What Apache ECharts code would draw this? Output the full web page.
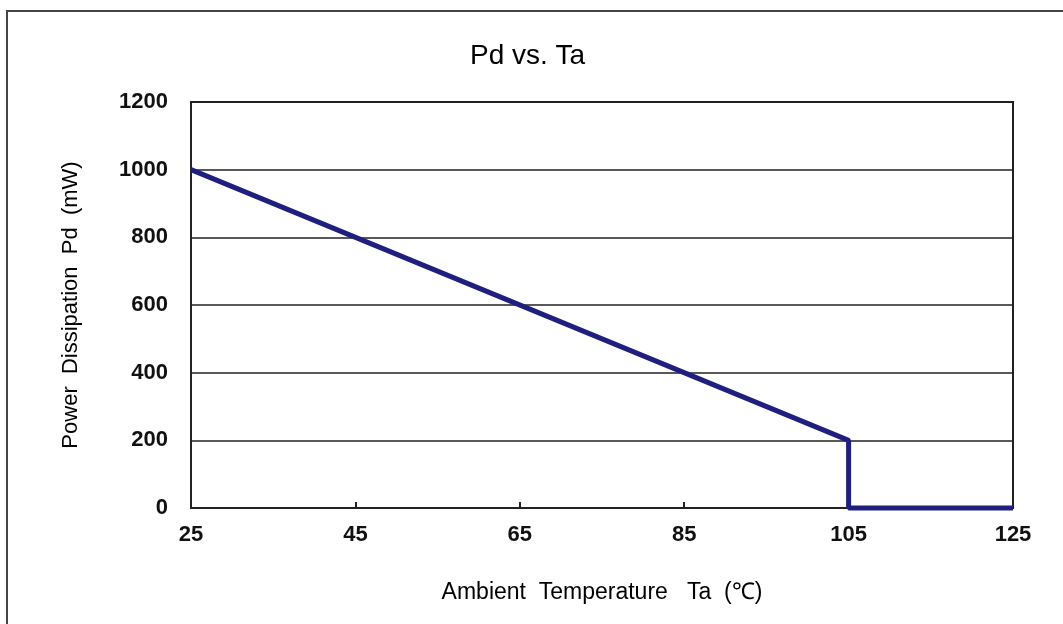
<!DOCTYPE html>
<html><head><meta charset="utf-8">
<script src="https://cdn.jsdelivr.net/npm/echarts@6/dist/echarts.min.js"></script>
<style>html,body{margin:0;padding:0;background:#fff}#c{width:1063px;height:624px}</style>
</head><body><div id="c"></div>
<script>
const temps = [25, 105, 105, 125];
const pd = [1000, 200, 0, 0];
const xTicks = [25, 45, 65, 85, 105, 125];
const yTicks = [0, 200, 400, 600, 800, 1000, 1200];
const title = 'Pd vs. Ta';
const xName = 'Ambient  Temperature   Ta  (℃)';
const yName = 'Power  Dissipation  Pd  (mW)';

const chart = echarts.init(document.getElementById('c'), null, {renderer: 'canvas'});
chart.setOption({
  animation: false,
  backgroundColor: '#fff',
  title: {text: title, left: 465, top: 37,
    textStyle: {fontFamily: 'Liberation Sans', fontSize: 28, fontWeight: 'normal', color: '#000'}},
  graphic: [{type: 'rect', shape: {x: 7, y: 11, width: 1200, height: 800},
    style: {fill: null, stroke: '#444', lineWidth: 2}, silent: true}],
  grid: {left: 191, right: 50, top: 102, bottom: 116, show: true, borderColor: '#222', borderWidth: 2},
  xAxis: {type: 'value', min: 25, max: 125, interval: 20,
    name: xName, nameLocation: 'middle', nameGap: 73,
    nameTextStyle: {fontFamily: 'Liberation Sans', fontSize: 23, color: '#000'},
    axisLine: {show: true, lineStyle: {color: '#222', width: 2}},
    axisTick: {show: true, inside: true, length: 6, lineStyle: {color: '#222', width: 2}},
    splitLine: {show: false},
    axisLabel: {margin: 16, fontFamily: 'Liberation Sans', fontSize: 22, fontWeight: 'bold', color: '#111',
      formatter: v => xTicks.includes(v) ? String(v) : ''}},
  yAxis: {type: 'value', min: 0, max: 1200, interval: 200,
    name: yName, nameLocation: 'middle', nameGap: 109,
    nameTextStyle: {fontFamily: 'Liberation Sans', fontSize: 22, color: '#000'},
    axisLine: {show: true, lineStyle: {color: '#222', width: 2}},
    axisTick: {show: false},
    splitLine: {show: true, lineStyle: {color: '#222', width: 1.5}},
    axisLabel: {margin: 23, fontFamily: 'Liberation Sans', fontSize: 22, fontWeight: 'bold', color: '#111',
      formatter: v => yTicks.includes(v) ? String(v) : ''}},
  series: [{type: 'line', data: temps.map((t, i) => [t, pd[i]]), symbol: 'none',
    lineStyle: {color: '#1f1f7f', width: 5}, clip: false}]
});
</script></body></html>
